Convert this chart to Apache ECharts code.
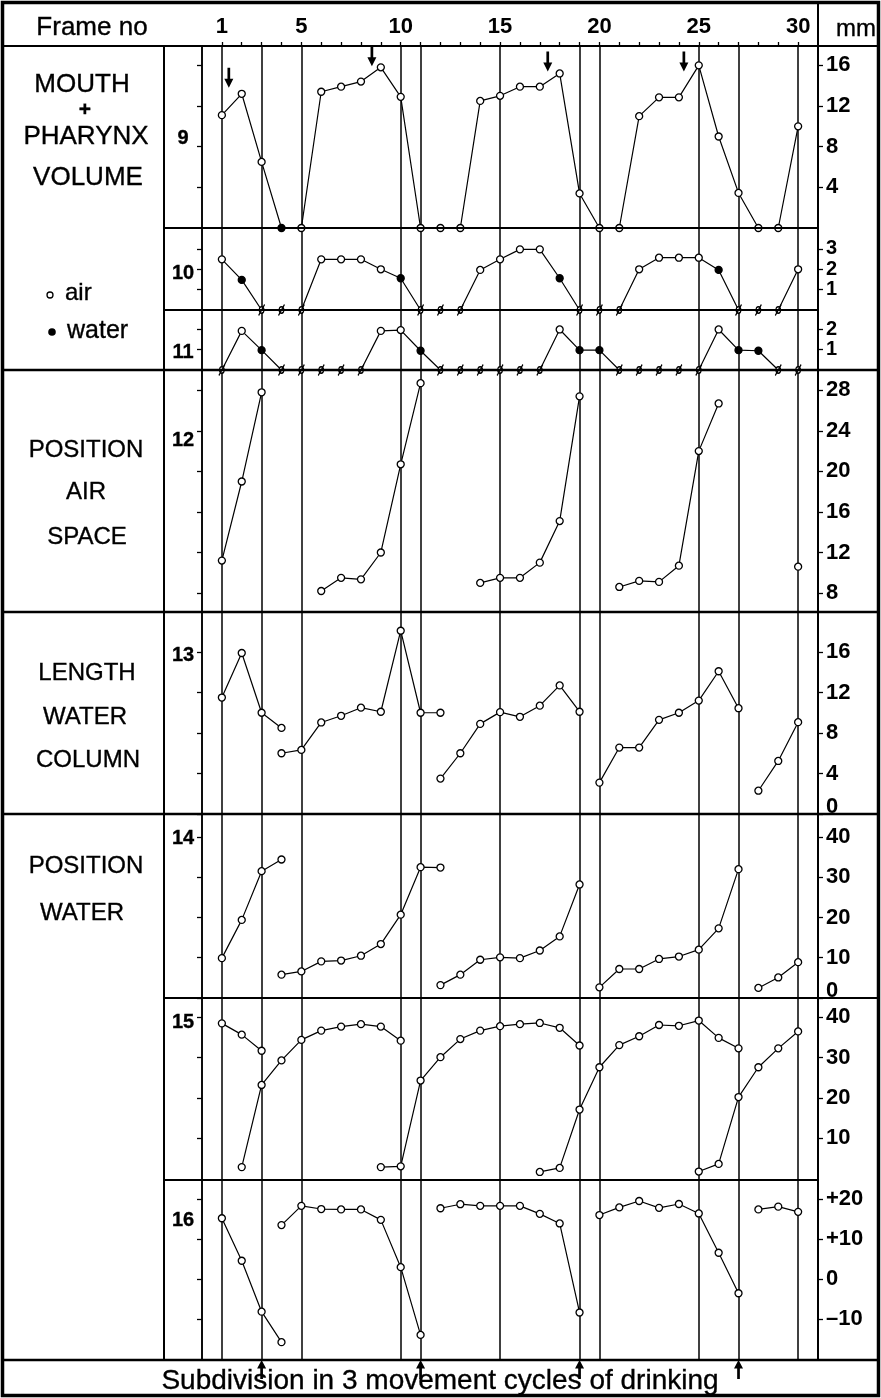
<!DOCTYPE html>
<html><head><meta charset="utf-8">
<script src="https://cdn.jsdelivr.net/npm/echarts@6/dist/echarts.min.js"></script>
<style>html,body{margin:0;padding:0;background:#fff}#c{width:881px;height:1398px}</style>
</head><body><div id="c"></div>
<script>
// ---------- DATA ----------
const frameNumbers = [1,2,3,4,5,6,7,8,9,10,11,12,13,14,15,16,17,18,19,20,21,22,23,24,25,26,27,28,29,30];
const frameLabels = [1,5,10,15,20,25,30];
const frameLines = [0,1,3,5,10,11,15,19,20,25,27,30,31];
const cycleArrowFrames = [3,11,19,27];
const onsetArrowFrames = [1.35,8.55,17.4,24.25];
const onsetArrowTips = [13.8,15.9,15.4,15.4];

// panel 9: mouth + pharynx volume (a = air, w = water)
const p9Values = [11.1,13.2,6.5,0,0,13.4,13.9,14.4,15.8,12.9,0,0,0,12.5,13.0,13.9,13.9,15.2,3.4,0,0,11.0,12.85,12.85,16.0,9.0,3.45,0,0,10.0];
const p9Kinds  = 'aaawaaaaaaaaaaaaaaaaaaaaaaaaaa';
// panel 10 (z = zero / absent, slashed)
const p10Values = [2.49,1.48,0,0,0,2.49,2.49,2.49,2.0,1.56,0,0,0,1.97,2.49,2.98,2.98,1.56,0,0,0,2.0,2.57,2.57,2.57,1.97,0,0,0,2.0];
const p10Kinds  = 'awzzzaaaawzzzaaaawzzzaaaawzzza';
// panel 11
const p11Values = [0,1.93,0.98,0,0,0,0,0,1.93,1.97,0.95,0,0,0,0,0,0,2.0,0.98,0.98,0,0,0,0,0,2.0,0.98,0.95,0,0];
const p11Kinds  = 'zawzzzzzaawzzzzzzawwzzzzzawwzz';
// panel 12: position air space
const p12Segments = [
  [[1,11.2],[2,19.0],[3,27.8]],
  [[6,8.2],[7,9.5],[8,9.35],[9,12.0],[10,20.7],[11,28.7]],
  [[14,9.0],[15,9.5],[16,9.5],[17,11.0],[18,15.1],[19,27.4]],
  [[21,8.6],[22,9.2],[23,9.1],[24,10.7],[25,22.0],[26,26.7]],
  [[30,10.6]]
];
// panel 13: length water column
const p13Segments = [
  [[1,11.5],[2,15.9],[3,10.0],[4,8.5]],
  [[4,6.0],[5,6.33],[6,9.04],[7,9.7],[8,10.5],[9,10.1],[10,18.1],[11,10.0],[12,10.0]],
  [[12,3.5],[13,6.0],[14,8.9],[15,10.06],[16,9.6],[17,10.7],[18,12.7],[19,10.1]],
  [[20,3.1],[21,6.56],[22,6.56],[23,9.3],[24,10.0],[25,11.2],[26,14.1],[27,10.45]],
  [[28,2.3],[29,5.24],[30,9.07]]
];
// panel 14: position water
const p14Segments = [
  [[1,9.9],[2,19.4],[3,31.5],[4,34.4]],
  [[4,5.8],[5,6.6],[6,9.1],[7,9.3],[8,10.5],[9,13.4],[10,20.7],[11,32.5],[12,32.4]],
  [[12,3.2],[13,5.8],[14,9.5],[15,10.1],[16,9.9],[17,11.8],[18,15.3],[19,28.2]],
  [[20,2.65],[21,7.2],[22,7.2],[23,9.7],[24,10.3],[25,12.0],[26,17.3],[27,32.0]],
  [[28,2.5],[29,5.1],[30,8.9]]
];
// panel 15
const p15Segments = [
  [[1,38.5],[2,35.7],[3,31.7]],
  [[2,2.8],[3,23.2],[4,29.3],[5,34.4],[6,36.7],[7,37.7],[8,38.3],[9,37.7],[10,34.2]],
  [[9,2.8],[10,3.0],[11,24.3],[12,30.1],[13,34.6],[14,36.7],[15,37.8],[16,38.3],[17,38.6],[18,37.4],[19,33.0]],
  [[17,1.6],[18,2.6],[19,17.1],[20,27.6],[21,33.1],[22,35.3],[23,38.1],[24,37.9],[25,39.2],[26,34.9],[27,32.3]],
  [[25,1.7],[26,3.6],[27,20.2],[28,27.6],[29,32.3],[30,36.5]]
];
// panel 16
const p16Segments = [
  [[1,15.2],[2,4.6],[3,-8.1],[4,-15.7]],
  [[4,13.5],[5,18.3],[6,17.5],[7,17.4],[8,17.4],[9,14.8],[10,3.0],[11,-13.9]],
  [[12,17.7],[13,18.7],[14,18.3],[15,18.3],[16,18.3],[17,16.3],[18,13.9],[19,-8.3]],
  [[20,16.0],[21,17.9],[22,19.5],[23,17.8],[24,18.75],[25,16.4],[26,6.6],[27,-3.5]],
  [[28,17.4],[29,18.1],[30,16.8]]
];

// tick values and labels
const ticks9 = [4,8,12,16];
const ticks10 = [1,2,3];
const ticks11 = [1,2];
const ticks12 = [8,12,16,20,24,28];
const ticks13 = [0,4,8,12,16];
const ticks14 = [0,10,20,30,40];
const ticks15 = [10,20,30,40];
const ticks16 = [-10,0,10,20];
const tickLabels16 = ['\u201310','0','+10','+20'];
const panelNames = ['9','10','11','12','13','14','15','16'];

// ---------- LAYOUT / STYLE ----------
const NUM_FONT = '"Liberation Sans Narrow","Liberation Sans",Arial,sans-serif';
const TXT_FONT = '"Liberation Sans",Arial,sans-serif';
const GL = 202, GR = 63;
const panels = [
  {top:46,  bottom:228,  min:0,    max:17.9, ticks:ticks9,  nameY:138, fs:22},
  {top:228, bottom:310,  min:0,    max:4.03, ticks:ticks10, nameY:273, fs:20},
  {top:310, bottom:370,  min:0,    max:2.96, ticks:ticks11, nameY:352, fs:20},
  {top:370, bottom:612,  min:6.13, max:30.0, ticks:ticks12, nameY:440, fs:22},
  {top:612, bottom:814,  min:0,    max:19.95,ticks:ticks13, nameY:655, fs:22},
  {top:814, bottom:998,  min:0,    max:45.7, ticks:ticks14, nameY:838, fs:22},
  {top:998, bottom:1180, min:-0.4, max:44.8, ticks:ticks15, nameY:1022, fs:22},
  {top:1180,bottom:1360, min:-20.15,max:24.74,ticks:ticks16, nameY:1220, fs:22}
];
const SYM_ZERO = 'path://M9.5,6A3.5,3.5,0,1,1,2.5,6A3.5,3.5,0,1,1,9.5,6Z M1.5,12L10.5,0';
const ARROW_DOWN = 'path://M3.5,0L6.5,0L6.5,11L10,11L5,20L0,11L3.5,11Z';
const ARROW_UP = 'path://M5,0L10,9L6.5,9L6.5,20L3.5,20L3.5,9L0,9Z';

const grids = [], xAxes = [], yAxes = [], series = [];
const tickStyle = {color:'#000', width:1.3};

panels.forEach((p, i) => {
  const numLabel = {color:'#000', fontWeight:'bold', fontSize:p.fs, fontFamily:NUM_FONT};
  grids.push({left:GL, right:GR, top:p.top, height:p.bottom - p.top});
  xAxes.push({gridIndex:i, type:'value', min:0, max:31, show:false});
  const fmt = (v) => {
    if (i === 7) return tickLabels16[ticks16.indexOf(v)];
    if (v === 0) return '{z|0}';
    return String(v);
  };
  yAxes.push({gridIndex:i, type:'value', position:'left', min:p.min, max:p.max,
    axisLine:{show:false}, splitLine:{show:false},
    axisTick:{show:true, length:5, customValues:p.ticks, lineStyle:tickStyle},
    axisLabel:{show:false}});
  yAxes.push({gridIndex:i, type:'value', position:'right', min:p.min, max:p.max,
    axisLine:{show:false}, splitLine:{show:false},
    axisTick:{show:true, length:5, customValues:p.ticks, lineStyle:tickStyle},
    axisLabel:Object.assign({show:true, customValues:p.ticks, formatter:fmt, margin:8,
      hideOverlap:false, showMinLabel:true, showMaxLabel:true,
      rich:{z:Object.assign({padding:[0,0,14,0]}, numLabel)}}, numLabel)});
});

const baseSeries = (gi) => ({
  type:'line', xAxisIndex:gi, yAxisIndex:gi*2+1, symbol:'circle', symbolSize:7,
  showAllSymbol:true, clip:false, symbolKeepAspect:true, silent:true,
  itemStyle:{color:'#fff', borderColor:'#000', borderWidth:1.3, opacity:1},
  lineStyle:{color:'#000', width:1.2}, emphasis:{disabled:true}, z:5
});

function kindData(values, kinds) {
  return values.map((v, i) => {
    const k = kinds[i];
    const item = {value:[frameNumbers[i], v]};
    if (k === 'w') item.itemStyle = {color:'#000', borderColor:'#000', borderWidth:1.3};
    else if (k === 'z') { item.symbol = SYM_ZERO; item.symbolSize = [8,11]; }
    return item;
  });
}
series.push(Object.assign(baseSeries(0), {data:kindData(p9Values, p9Kinds)}));
series.push(Object.assign(baseSeries(1), {data:kindData(p10Values, p10Kinds)}));
series.push(Object.assign(baseSeries(2), {data:kindData(p11Values, p11Kinds)}));
[[3,p12Segments],[4,p13Segments],[5,p14Segments],[6,p15Segments],[7,p16Segments]].forEach(([gi, segs]) => {
  segs.forEach(seg => series.push(Object.assign(baseSeries(gi), {data:seg})));
});

// onset arrows in panel 9
series.push({type:'scatter', xAxisIndex:0, yAxisIndex:1, silent:true, z:6,
  symbol:ARROW_DOWN, symbolSize:[9,20], symbolOffset:[0,'-50%'],
  itemStyle:{color:'#000', opacity:1}, emphasis:{disabled:true},
  data:onsetArrowFrames.map((f,i)=>[f, onsetArrowTips[i]])});

// background grid with frame lines (axes index 8, yAxis 16)
grids.push({left:GL, right:GR, top:46, height:1314});
xAxes.push({gridIndex:8, type:'value', min:0, max:31, show:false});
yAxes.push({gridIndex:8, type:'value', min:0, max:1, show:false});
series.push({type:'line', xAxisIndex:8, yAxisIndex:16, data:[[0,0]], symbol:'none', silent:true,
  lineStyle:{opacity:0}, z:1,
  markLine:{silent:true, symbol:'none', label:{show:false}, animation:false,
    lineStyle:{color:'#000', width:1.5, type:'solid', opacity:1},
    data:frameLines.map(f=>({xAxis:f}))}});

// header grid (axes index 9, yAxis 17)
grids.push({left:GL, right:GR, top:3, height:43});
xAxes.push({gridIndex:9, type:'value', min:0, max:31, position:'bottom',
  axisLine:{show:false}, splitLine:{show:false},
  axisTick:{show:true, inside:true, length:4, customValues:frameNumbers, lineStyle:tickStyle},
  axisLabel:{show:true, inside:true, customValues:frameLabels, margin:8, color:'#000',
    hideOverlap:false, fontWeight:'bold', fontSize:22, fontFamily:NUM_FONT}});
yAxes.push({gridIndex:9, type:'value', min:0, max:1, show:false});
series.push({type:'line', xAxisIndex:9, yAxisIndex:17, data:[], silent:true});

// bottom row grid with cycle arrows (axes index 10, yAxis 18)
grids.push({left:GL, right:GR, top:1360, height:35});
xAxes.push({gridIndex:10, type:'value', min:0, max:31, show:false});
yAxes.push({gridIndex:10, type:'value', min:0, max:1, show:false});
series.push({type:'scatter', xAxisIndex:10, yAxisIndex:18, silent:true, z:6,
  symbol:ARROW_UP, symbolSize:[9,19], symbolOffset:[0,'50%'],
  itemStyle:{color:'#000', opacity:1}, emphasis:{disabled:true},
  data:cycleArrowFrames.map(f=>[f,1])});

// ---------- GRAPHICS (frame, separators, texts) ----------
const L = (x1,y1,x2,y2,w) => ({type:'line', silent:true, z:10, shape:{x1,y1,x2,y2}, style:{stroke:'#000', lineWidth:w||2}});
const T = (x,y,text,size,weight,align) => ({type:'text', silent:true, z:10, x, y,
  style:{text, fill:'#000', stroke:'#000', lineWidth:0.35,
    font:(weight||'normal')+' '+size+'px '+TXT_FONT, textAlign:align||'center', textVerticalAlign:'middle'}});
const graphics = [
  {type:'rect', silent:true, z:10, shape:{x:2.5,y:2.5,width:876,height:1393}, style:{fill:null, stroke:'#000', lineWidth:3.5}},
  L(3,46,878,46,2),
  L(164,46,164,1360,2),
  L(818,3,818,1360,2),
  L(202,46,202,1360,1.6),
  L(164,228,818,228,2),
  L(164,310,818,310,2),
  L(3,370,878,370,2.5),
  L(3,612,878,612,2.5),
  L(3,814,878,814,2.5),
  L(164,998,878,998,2),
  L(164,1180,818,1180,2),
  L(3,1360,878,1360,2.5),
  T(92,28,'Frame no',26),
  T(856,29,'mm',24),
  T(82,85,'MOUTH',26), T(85,110,'+',21,'bold'), T(86,137,'PHARYNX',26), T(88,178,'VOLUME',26),
  T(65,293,'air',24,'normal','left'), T(67,331,'water',25,'normal','left'),
  {type:'circle', silent:true, z:10, shape:{cx:50,cy:295,r:3}, style:{fill:'#fff', stroke:'#000', lineWidth:1.3}},
  {type:'circle', silent:true, z:10, shape:{cx:52,cy:332,r:3.8}, style:{fill:'#000'}},
  T(86,450,'POSITION',24), T(86,492,'AIR',24), T(87,537,'SPACE',24),
  T(87,673,'LENGTH',24), T(85,717,'WATER',24), T(88,760,'COLUMN',24),
  T(86,866,'POSITION',24), T(82,913,'WATER',24),
  T(440,1381,'Subdivision in 3 movement cycles of drinking',28)
];
panels.forEach((p,i) => graphics.push(T(183, p.nameY, panelNames[i], 20, 'bold')));

const chart = echarts.init(document.getElementById('c'), null, {renderer:'canvas'});
chart.setOption({
  animation:false, backgroundColor:'#fff',
  grid:grids, xAxis:xAxes, yAxis:yAxes, series:series, graphic:graphics
});
</script></body></html>
